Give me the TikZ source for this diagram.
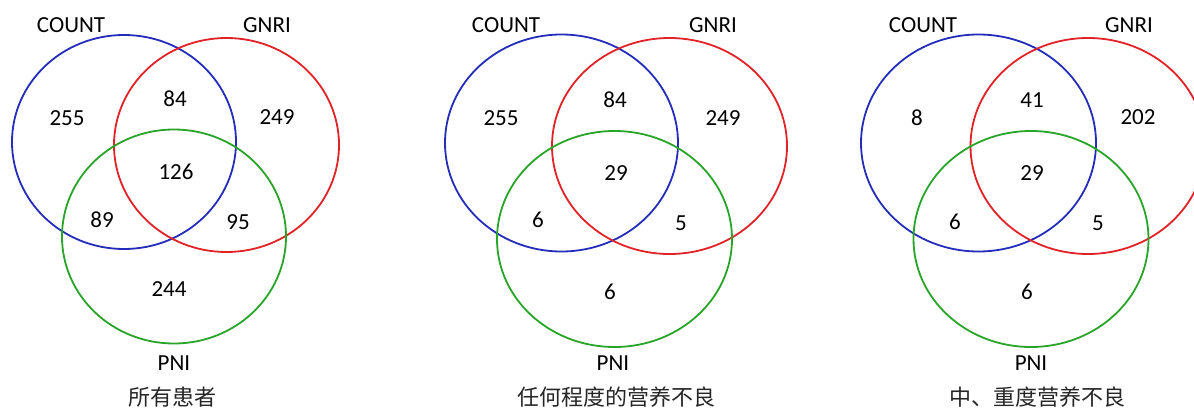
\documentclass[tikz,border=0pt]{standalone}
\usepackage{fontspec}
\setmainfont{Carlito}
\newfontfamily\cjk{Noto Sans CJK SC}
\usetikzlibrary{shapes.geometric}
\definecolor{vblue}{RGB}{35,45,185}
\definecolor{vred}{RGB}{225,35,40}
\definecolor{vgreen}{RGB}{40,165,40}
\tikzset{
  ring/.style={ellipse, draw, line width=1.8pt, inner sep=0pt},
  num/.style={inner sep=0pt, font=\fontsize{23}{26}\selectfont},
  setlabel/.style={inner sep=0pt, font=\fontsize{23}{26}\selectfont},
  caption/.style={inner sep=0pt, font=\cjk\fontsize{22}{24}\selectfont\color{black!85}}
}
\begin{document}
\begin{tikzpicture}[x=1pt,y=1pt]
\useasboundingbox (0,0) rectangle (1194,408);
\clip (0,0) rectangle (1194,408);
\fill[white] (0,0) rectangle (1194,408);
% Panel 1
\node[ring, vblue, minimum width=224pt, minimum height=214pt] (c1) at (124,266) {};
\node[ring, vred, minimum width=225pt, minimum height=214pt] (g1) at (226.5,263) {};
\node[ring, vgreen, minimum width=224pt, minimum height=214pt] (p1) at (174,171.5) {};
\node[setlabel] (lc1) at (71,383) {COUNT};
\node[setlabel] (lg1) at (267,383) {GNRI};
\node[setlabel] (lp1) at (174,45) {PNI};
\node[caption, anchor=base] (t1) at (172,3) {所有患者};
\node[num] (a1) at (67,290) {255};
\node[num] (b1) at (175,309) {84};
\node[num] (d1) at (277,291) {249};
\node[num] (e1) at (176,236) {126};
\node[num] (f1) at (102,188) {89};
\node[num] (h1) at (238,186) {95};
\node[num] (i1) at (169,119) {244};
% Panel 2
\node[ring, vblue, minimum width=233pt, minimum height=217pt] (c2) at (561.5,265) {};
\node[ring, vred, minimum width=235pt, minimum height=216pt] (g2) at (669.5,262) {};
\node[ring, vgreen, minimum width=235pt, minimum height=216pt] (p2) at (614.5,169) {};
\node[setlabel] (lc2) at (506,383) {COUNT};
\node[setlabel] (lg2) at (713,383) {GNRI};
\node[setlabel] (lp2) at (613,45) {PNI};
\node[caption, anchor=base] (t2) at (616,3) {任何程度的营养不良};
\node[num] (a2) at (501,290) {255};
\node[num] (b2) at (615,308) {84};
\node[num] (d2) at (723,290) {249};
\node[num] (e2) at (616,235) {29};
\node[num] (f2) at (538,188) {6};
\node[num] (h2) at (681,185) {5};
\node[num] (i2) at (610,116) {6};
% Panel 3
\node[ring, vblue, minimum width=235pt, minimum height=217pt] (c3) at (978.5,265) {};
\node[ring, vred, minimum width=235pt, minimum height=216pt] (g3) at (1088,262) {};
\node[ring, vgreen, minimum width=235pt, minimum height=216pt] (p3) at (1031,169) {};
\node[setlabel] (lc3) at (923,383) {COUNT};
\node[setlabel] (lg3) at (1129,383) {GNRI};
\node[setlabel] (lp3) at (1031,45) {PNI};
\node[caption, anchor=base] (t3) at (1037,3) {中、重度营养不良};
\node[num] (a3) at (917,290) {8};
\node[num] (b3) at (1032,308) {41};
\node[num] (d3) at (1138,291) {202};
\node[num] (e3) at (1032,235) {29};
\node[num] (f3) at (955,186) {6};
\node[num] (h3) at (1098,185) {5};
\node[num] (i3) at (1027,116) {6};
\end{tikzpicture}
\end{document}
